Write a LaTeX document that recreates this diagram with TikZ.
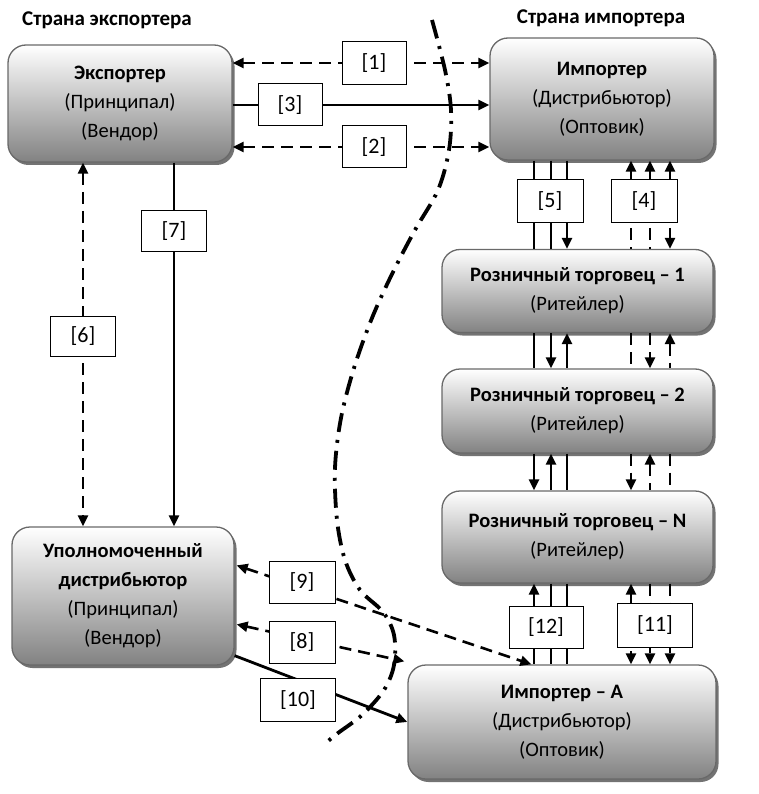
\documentclass[tikz,border=0pt]{standalone}
\usepackage{fontspec}
\setmainfont{Carlito}
\usetikzlibrary{arrows.meta,shadows,calc}
\pgfdeclarelayer{fg}
\pgfsetlayers{main,fg}
\definecolor{boxbot}{RGB}{130,130,130}
\definecolor{boxedge}{RGB}{105,105,105}
\definecolor{shadowc}{RGB}{115,115,115}
\begin{document}
\begin{tikzpicture}[x=1pt,y=-1pt,
  >={Triangle[length=11pt,width=10pt]},
  mainbox/.style={draw=boxedge, line width=1.3pt, rounded corners=18pt,
    top color=white, bottom color=boxbot,
    drop shadow={shadow xshift=2.5pt, shadow yshift=-3pt, fill=shadowc, opacity=1},
    align=center, inner sep=0pt, font=\fontsize{20.5}{29}\selectfont},
  lbl/.style={draw, fill=white, line width=1pt, inner sep=0pt,
    font=\fontsize{22}{24}\selectfont},
  hdr/.style={font=\bfseries\fontsize{21}{24}\selectfont},
  sline/.style={line width=2.8pt},
  dline/.style={line width=2.6pt, dash pattern=on 12pt off 7pt},
  sepline/.style={line width=3.8pt, dash pattern=on 19pt off 8pt on 3pt off 8pt}]
\useasboundingbox (0,0) rectangle (758,794);

% headers
\node[hdr] (hexp) at (107,20) {Страна экспортера};
\node[hdr] (himp) at (601,18) {Страна импортера};

% main boxes
\node[mainbox, minimum width=224pt, minimum height=117pt] (exp) at (120,103.5)
  {\textbf{Экспортер}\\(Принципал)\\(Вендор)};
\node[mainbox, minimum width=224pt, minimum height=122pt] (imp) at (602,99)
  {\textbf{Импортер}\\(Дистрибьютор)\\(Оптовик)};
\node[mainbox, minimum width=271pt, minimum height=83pt] (r1) at (577.5,291)
  {\textbf{Розничный торговец – 1}\\(Ритейлер)};
\node[mainbox, minimum width=271pt, minimum height=84pt] (r2) at (577.5,411)
  {\textbf{Розничный торговец – 2}\\(Ритейлер)};
\node[mainbox, minimum width=271pt, minimum height=92pt] (rN) at (577.5,537)
  {\textbf{Розничный торговец – N}\\(Ритейлер)};
\node[mainbox, minimum width=222pt, minimum height=138pt] (dist) at (123,596)
  {\textbf{Уполномоченный}\\\textbf{дистрибьютор}\\(Принципал)\\(Вендор)};
\node[mainbox, minimum width=308pt, minimum height=114pt] (impA) at (562,722)
  {\textbf{Импортер – А}\\(Дистрибьютор)\\(Оптовик)};

% label boxes
\begin{pgfonlayer}{fg}
\node[lbl, minimum width=64pt, minimum height=43pt] (l1) at (374,63) {[1]};
\node[lbl, minimum width=64pt, minimum height=42pt] (l3) at (290,105) {[3]};
\node[lbl, minimum width=64pt, minimum height=42pt] (l2) at (374,147) {[2]};
\node[lbl, minimum width=65pt, minimum height=40pt] (l7) at (174,231) {[7]};
\node[lbl, minimum width=65pt, minimum height=40pt] (l6) at (83,336) {[6]};
\node[lbl, minimum width=66pt, minimum height=43pt] (l5) at (550,201) {[5]};
\node[lbl, minimum width=66pt, minimum height=43pt] (l4) at (644,201) {[4]};
\node[lbl, minimum width=66pt, minimum height=42pt] (l9) at (302,582) {[9]};
\node[lbl, minimum width=66pt, minimum height=42pt] (l8) at (302,642) {[8]};
\node[lbl, minimum width=75pt, minimum height=43pt] (l10) at (298,700) {[10]};
\node[lbl, minimum width=74pt, minimum height=42pt] (l12) at (546,627) {[12]};
\node[lbl, minimum width=75pt, minimum height=44pt] (l11) at (655,625) {[11]};
\end{pgfonlayer}

% x positions of vertical links
\coordinate (xa) at (534,0);
\coordinate (xb) at (551,0);
\coordinate (xc) at (567,0);
\coordinate (xd) at (631,0);
\coordinate (xe) at (650,0);
\coordinate (xf) at (670,0);

% exporter <-> importer
\draw[dline,<->] (exp.east |- l1) -- (imp.west |- l1);
\draw[sline,->] (exp.east |- l3) -- (imp.west |- l3);
\draw[dline,<->] (exp.east |- l2) -- (imp.west |- l2);

% exporter <-> distributor
\draw[dline,<->] (exp.south -| l6) -- (dist.north -| l6);
\draw[sline,->] (exp.south -| l7) -- (dist.north -| l7);

% importer -> retailer 1
\draw[sline] (imp.south -| xa) -- (r1.north -| xa);
\draw[sline] (imp.south -| xb) -- (r1.north -| xb);
\draw[sline,->] (imp.south -| xc) -- (r1.north -| xc);
\draw[dline,<-] (imp.south -| xd) -- (r1.north -| xd);
\draw[dline,<-] (imp.south -| xe) -- (r1.north -| xe);
\draw[dline,<->] (imp.south -| xf) -- (r1.north -| xf);

% retailer 1 -> retailer 2
\draw[sline] (r1.south -| xa) -- (r2.north -| xa);
\draw[sline,->] (r1.south -| xb) -- (r2.north -| xb);
\draw[sline,<-] (r1.south -| xc) -- (r2.north -| xc);
\draw[dline] (r1.south -| xd) -- (r2.north -| xd);
\draw[dline,->] (r1.south -| xe) -- (r2.north -| xe);
\draw[dline,<-] (r1.south -| xf) -- (r2.north -| xf);

% retailer 2 -> retailer N
\draw[sline,->] (r2.south -| xa) -- (rN.north -| xa);
\draw[sline,<-] (r2.south -| xb) -- (rN.north -| xb);
\draw[sline] (r2.south -| xc) -- (rN.north -| xc);
\draw[dline,->] (r2.south -| xd) -- (rN.north -| xd);
\draw[dline,<-] (r2.south -| xe) -- (rN.north -| xe);
\draw[dline] (r2.south -| xf) -- (rN.north -| xf);

% retailer N -> importer A
\draw[sline,<-] (rN.south -| xa) -- (impA.north -| xa);
\draw[sline] (rN.south -| xb) -- (impA.north -| xb);
\draw[sline] (rN.south -| xc) -- (impA.north -| xc);
\draw[dline,<->] (rN.south -| xd) -- (impA.north -| xd);
\draw[dline,->] (rN.south -| xe) -- (impA.north -| xe);
\draw[dline,->] (rN.south -| xf) -- (impA.north -| xf);

% distributor <-> importer A
\coordinate (c9a) at ($(dist.north east)+(2,39)$);
\coordinate (c9b) at ($(impA.north west)+(124,0)$);
\coordinate (c8a) at ($(dist.north east)+(2,98)$);
\coordinate (c8b) at ($(impA.north west)+(-3,-3)$);
\coordinate (c10a) at ($(dist.south east)+(0,-10)$);
\draw[dline,<->] (c9a) -- (c9b);
\draw[dline,<->] (c8a) -- (c8b);
\draw[sline,->] (c10a) -- (impA.west);

% border line
\draw[sepline] plot[smooth, tension=0.55] coordinates {(432,20) (445,70) (451,110)
  (449,150) (438,190) (415,230) (393,272) (372,318) (354,368) (341,418) (335,468)
  (337,520) (345,560) (360,590) (383,612) (394,635) (394,665) (384,690) (362,715)
  (338,733) (327,742)};
\end{tikzpicture}
\end{document}
